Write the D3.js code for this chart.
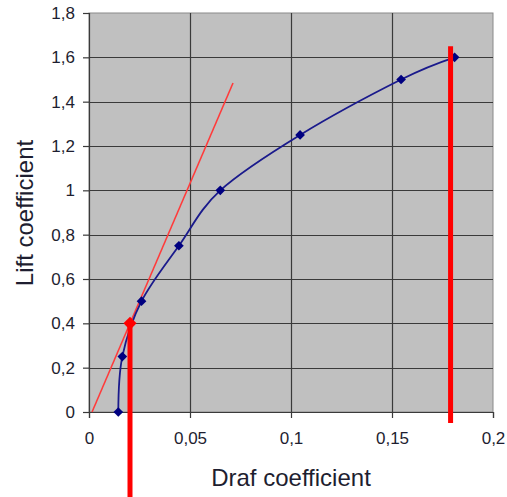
<!DOCTYPE html>
<html>
<head>
<meta charset="utf-8">
<script src="https://cdn.jsdelivr.net/npm/d3@7"></script>
<style>
body { margin: 0; background: #fff; }
svg text { font-family: "Liberation Sans", Arial, sans-serif; fill: #1e1e30; }
</style>
</head>
<body>
<svg id="chart" width="507" height="497"></svg>
<script>
// polar curve points
var dragCoef = [0.0145, 0.0165, 0.026, 0.0445, 0.065, 0.1045, 0.1545, 0.181];
var liftCoef = [0, 0.25, 0.5, 0.75, 1.0, 1.25, 1.5, 1.6];
// tangent from origin
var tangentX = [0.0015, 0.0713];
var tangentY = [0, 1.484];
// tangent point + vertical markers
var tangentPt = [0.0203, 0.4];
var minDragLine = {x: 0.0203, y0: 0.4, y1: -0.385};
var maxLiftLine = {x: 0.179, y0: 1.65, y1: -0.05};
var xTicks = [0, 0.05, 0.1, 0.15, 0.2];
var xTickLabels = ["0", "0,05", "0,1", "0,15", "0,2"];
var yTicks = [0, 0.2, 0.4, 0.6, 0.8, 1, 1.2, 1.4, 1.6, 1.8];
var yTickLabels = ["0", "0,2", "0,4", "0,6", "0,8", "1", "1,2", "1,4", "1,6", "1,8"];

var svg = d3.select("#chart");
var margin = {left: 89, top: 13, right: 14, bottom: 85};
var width = 507 - margin.left - margin.right,
    height = 497 - margin.top - margin.bottom;

var x = d3.scaleLinear().domain([0, 0.2]).range([margin.left, margin.left + width]);
var y = d3.scaleLinear().domain([0, 1.8]).range([margin.top + height, margin.top]);

// plot area
svg.append("rect")
  .attr("x", x(0)).attr("y", y(1.8))
  .attr("width", x(0.2) - x(0)).attr("height", y(0) - y(1.8))
  .attr("fill", "#c0c0c0").attr("stroke", "#8a8a8a").attr("stroke-width", 1);

// grid
svg.append("g").selectAll("line").data(yTicks.slice(1, -1)).join("line")
  .attr("x1", x(0)).attr("x2", x(0.2))
  .attr("y1", function(d){ return Math.round(y(d)) + 0.5; })
  .attr("y2", function(d){ return Math.round(y(d)) + 0.5; })
  .attr("stroke", "#3a3a3a").attr("stroke-width", 1.2);
svg.append("g").selectAll("line").data(xTicks.slice(1, -1)).join("line")
  .attr("y1", y(0)).attr("y2", y(1.8))
  .attr("x1", function(d){ return Math.round(x(d)) + 0.5; })
  .attr("x2", function(d){ return Math.round(x(d)) + 0.5; })
  .attr("stroke", "#3a3a3a").attr("stroke-width", 1.2);

// axes
var yAxis = d3.axisLeft(y).tickValues(yTicks).tickSize(6).tickPadding(8)
  .tickFormat(function(d, i){ return yTickLabels[i]; });
var gy = svg.append("g").attr("transform", "translate(" + x(0) + ",0)").call(yAxis);
var xAxis = d3.axisBottom(x).tickValues(xTicks).tickSize(6).tickPadding(14)
  .tickFormat(function(d, i){ return xTickLabels[i]; });
var gx = svg.append("g").attr("transform", "translate(0," + y(0) + ")").call(xAxis);
[gx, gy].forEach(function(g){
  g.select(".domain").attr("stroke", "#3a3a3a").attr("stroke-width", 1.2);
  g.selectAll(".tick line").attr("stroke", "#3a3a3a").attr("stroke-width", 1.2);
  g.selectAll(".tick text").attr("font-size", 17).attr("fill", "#1e1e30");
});

// titles
svg.append("text")
  .attr("x", 291).attr("y", 486)
  .attr("text-anchor", "middle").attr("font-size", 24)
  .text("Draf coefficient");
svg.append("text")
  .attr("transform", "translate(33,213) rotate(-90)")
  .attr("text-anchor", "middle").attr("font-size", 24)
  .text("Lift coefficient");

// tangent line
svg.append("line")
  .attr("x1", x(tangentX[0])).attr("y1", y(tangentY[0]))
  .attr("x2", x(tangentX[1])).attr("y2", y(tangentY[1]))
  .attr("stroke", "#ff3b3b").attr("stroke-width", 1.6);

// polar curve
var pts = dragCoef.map(function(d, i){ return [d, liftCoef[i]]; });
var line = d3.line()
  .x(function(d){ return x(d[0]); })
  .y(function(d){ return y(d[1]); })
  .curve(d3.curveCardinal.tension(0));
svg.append("path").datum(pts)
  .attr("fill", "none").attr("stroke", "#1a1a8c").attr("stroke-width", 1.8)
  .attr("d", line);
svg.append("g").selectAll("path").data(pts).join("path")
  .attr("d", d3.symbol(d3.symbolDiamond2, 60))
  .attr("transform", function(d){ return "translate(" + x(d[0]) + "," + y(d[1]) + ")"; })
  .attr("fill", "#000080");

// vertical red markers
[minDragLine, maxLiftLine].forEach(function(l){
  svg.append("line")
    .attr("x1", x(l.x)).attr("x2", x(l.x))
    .attr("y1", y(l.y0)).attr("y2", y(l.y1))
    .attr("stroke", "#ff0000").attr("stroke-width", 5);
});
svg.append("path")
  .attr("d", d3.symbol(d3.symbolDiamond2, 110))
  .attr("transform", "translate(" + x(tangentPt[0]) + "," + y(tangentPt[1]) + ")")
  .attr("fill", "#ff0000");
</script>
</body>
</html>
